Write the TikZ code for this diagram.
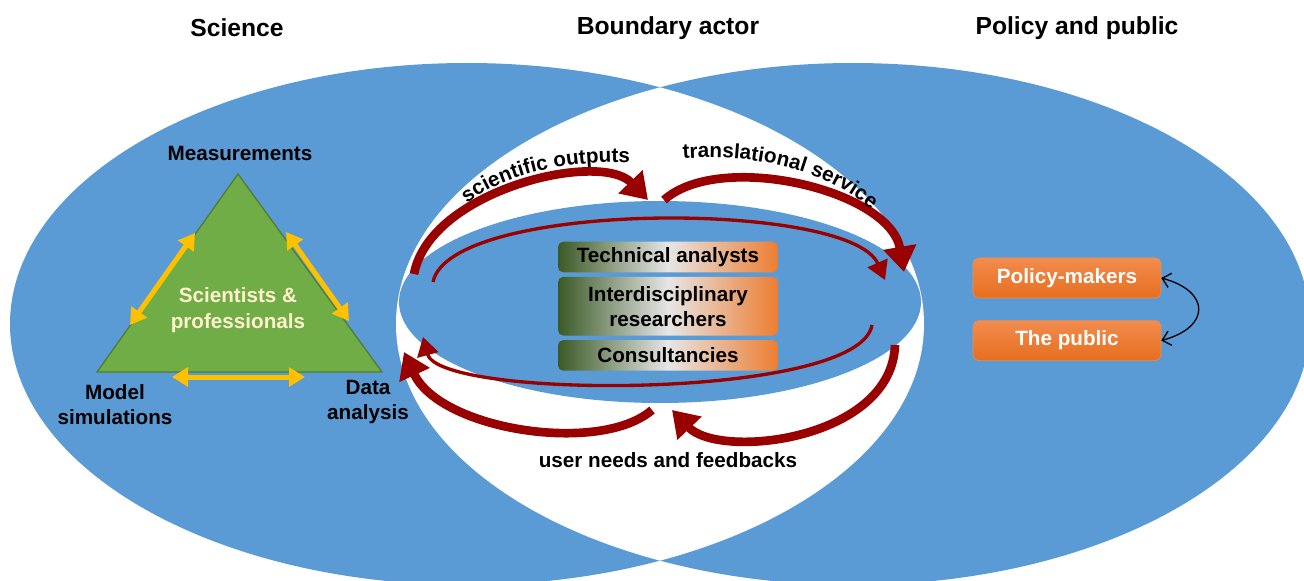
\documentclass[tikz,border=0pt]{standalone}
\usepackage{fontspec}
\setmainfont{Liberation Sans}
\usepackage{tikz}
\usetikzlibrary{positioning,arrows.meta,decorations.text}

\definecolor{venn}{HTML}{5B9BD5}
\definecolor{darkred}{HTML}{990000}
\definecolor{trigreen}{HTML}{70AD47}
\definecolor{tririm}{HTML}{507E32}
\definecolor{gold}{HTML}{FFC000}
\definecolor{cream}{HTML}{FFF2CC}
\definecolor{moss}{HTML}{3B5A26}
\definecolor{silver}{HTML}{E6E6E6}
\definecolor{tangerine}{HTML}{ED7D31}
\definecolor{orlight}{HTML}{F28C4E}
\definecolor{ordark}{HTML}{E66E1F}

\newcommand{\curvefont}{\bfseries\fontsize{15.5}{18}\selectfont}

\tikzset{
  lbl/.style={font=\bfseries\fontsize{15.5}{18.75}\selectfont, align=center},
  ttl/.style={font=\bfseries\fontsize{18.5}{22}\selectfont},
  midbox/.style={lbl, rounded corners=4pt, left color=moss, right color=tangerine, middle color=silver,
    minimum width=165pt, minimum height=23pt, inner sep=2pt},
  orbox/.style={lbl, text=white, rounded corners=4pt, top color=orlight, bottom color=ordark,
    draw=orlight, minimum width=141pt, minimum height=30pt},
  flow/.style={darkred, line width=6.5pt, -{Triangle[length=19pt,width=24pt]}},
  loopy/.style={darkred, line width=2.5pt, -{Triangle[length=14pt,width=16pt]}},
  link/.style={gold, line width=3.75pt, {Triangle[length=12pt,width=14pt]}-{Triangle[length=12pt,width=14pt]}},
}

\begin{document}
\begin{tikzpicture}[x=0.75pt,y=0.75pt]
  \useasboundingbox (0,0) rectangle (1304,-581);

  \fill[venn] (467,-324) ellipse [x radius=457, y radius=261];
  \fill[venn] (853,-324) ellipse [x radius=457, y radius=261];
  \begin{scope}
    \clip (467,-324) ellipse [x radius=457, y radius=261];
    \fill[white] (853,-324) ellipse [x radius=457, y radius=261];
  \end{scope}
  \fill[venn] (660,-302) ellipse [x radius=261, y radius=101];

  \node[ttl] (science) at (237,-28) {Science};
  \node[ttl] (actor) at (668,-28) {Boundary actor};
  \node[ttl] (society) at (1077,-28) {Policy and public};

  \coordinate (apex) at (238,-174);
  \coordinate (lcorner) at (97,-372);
  \coordinate (rcorner) at (382,-372);
  \filldraw[fill=trigreen, draw=tririm, line width=1pt] (apex) -- (rcorner) -- (lcorner) -- cycle;
  \node[lbl, text=cream, font=\bfseries\fontsize{15.5}{20}\selectfont] (team) at (238,-310) {Scientists \&\\professionals};
  \node[lbl] (meas) at (240,-153) {Measurements};
  \node[lbl] (model) at (115,-405) {Model\\simulations};
  \node[lbl] (data) at (368,-402) {Data\\analysis};

  \coordinate (m1) at (195,-233);
  \coordinate (m2) at (130,-325);
  \coordinate (m3) at (286,-232);
  \coordinate (m4) at (349,-321);
  \coordinate (m5) at (172,-377);
  \coordinate (m6) at (305,-377);
  \draw[link] (m1) -- (m2);
  \draw[link] (m3) -- (m4);
  \draw[link] (m5) -- (m6);

  \coordinate (t1) at (433,-282);
  \coordinate (t2) at (885,-280);
  \coordinate (b1) at (872,-325);
  \coordinate (b2) at (423,-337);
  \draw[loopy] (t1) .. controls (450,-200) and (850,-200) .. (t2);
  \draw[loopy] (b1) .. controls (860,-400) and (440,-400) .. (b2);

  \coordinate (so1) at (414,-274);
  \coordinate (so2) at (648,-200);
  \coordinate (ts1) at (664,-200);
  \coordinate (ts2) at (904,-272);
  \coordinate (un1) at (895,-345);
  \coordinate (un2) at (672,-410);
  \coordinate (fb1) at (652,-410);
  \coordinate (fb2) at (404,-352);
  \draw[flow] (so1) .. controls (430,-190) and (600,-150) .. (so2);
  \draw[flow] (ts1) .. controls (720,-150) and (890,-190) .. (ts2);
  \draw[flow] (un1) .. controls (892,-440) and (720,-460) .. (un2);
  \draw[flow] (fb1) .. controls (600,-455) and (440,-430) .. (fb2);

  \path[decorate, decoration={text along path, text align=center,
    text={|\curvefont|scientific outputs}}] (462,-207) .. controls (505,-172) and (570,-160) .. (636,-163);
  \path[decorate, decoration={text along path, text align=center,
    text={|\curvefont|translational service}}] (668,-160) .. controls (750,-150) and (835,-170) .. (882,-220);

  \node[midbox] (tech) at (668,-257) {Technical analysts};
  \node[midbox, minimum height=44pt, below=3pt of tech] (inter) {Interdisciplinary\\researchers};
  \node[midbox, below=3pt of inter] (consult) {Consultancies};

  \node[lbl] (needs) at (668,-460) {user needs and feedbacks};

  \node[orbox] (policy) at (1067,-278) {Policy-makers};
  \node[orbox, below=16.5pt of policy] (public) {The public};
  \draw[line width=1pt, {Straight Barb[length=6pt,width=11pt]}-{Straight Barb[length=6pt,width=11pt]}]
    (policy.east) to[out=-15, in=15, looseness=2.1] (public.east);
\end{tikzpicture}
\end{document}
